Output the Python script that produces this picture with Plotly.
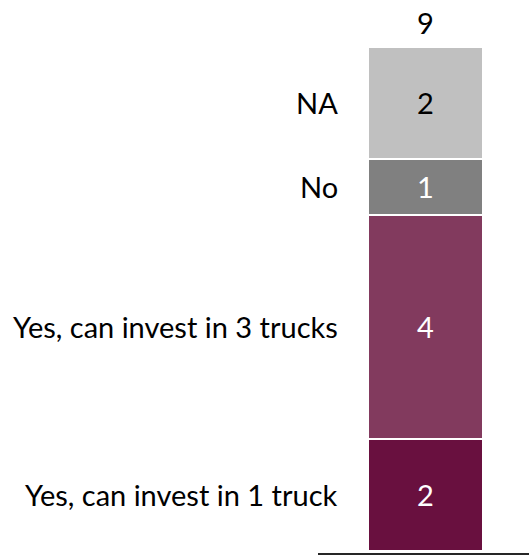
import plotly.graph_objects as go

# Survey responses, stacked bottom to top
categories = ["Yes, can invest in 1 truck", "Yes, can invest in 3 trucks", "No", "NA"]
counts = [2, 4, 1, 2]
colors = ["#69103F", "#823A5E", "#808080", "#C0C0C0"]
text_colors = ["white", "white", "white", "black"]
total = sum(counts)

FONT = "Lato"
SIZE = 29

fig = go.Figure()
for cat, val, col, tcol in zip(categories, counts, colors, text_colors):
    fig.add_trace(go.Bar(
        x=[0], y=[val], name=cat, width=1,
        marker=dict(color=col, line=dict(color="white", width=2)),
        text=[str(val)], textposition="inside", insidetextanchor="middle",
        textangle=0, constraintext="none",
        textfont=dict(family=FONT, size=SIZE, color=tcol),
        hoverinfo="skip",
    ))

# Category labels to the left of each segment
base = 0
for cat, val in zip(categories, counts):
    fig.add_annotation(
        x=-0.5, y=base + val / 2, xref="x", yref="y",
        text=cat, showarrow=False, xanchor="right", yanchor="middle",
        xshift=-28, font=dict(family=FONT, size=SIZE, color="black"),
    )
    base += val

# Total above the bar
fig.add_annotation(
    x=0, y=total, xref="x", yref="y", text=str(total), showarrow=False,
    xanchor="center", yanchor="bottom", yshift=5,
    font=dict(family=FONT, size=SIZE, color="black"),
)

fig.update_layout(
    barmode="stack",
    width=531, height=556,
    margin=dict(l=318, r=2, t=0, b=3),
    paper_bgcolor="white", plot_bgcolor="white",
    showlegend=False,
    xaxis=dict(range=[-0.935, 0.9], showgrid=False, zeroline=False,
               showticklabels=False, ticks="", showline=True,
               linecolor="#262626", linewidth=2, fixedrange=True),
    yaxis=dict(range=[-0.036, 9.839], showgrid=False, zeroline=False,
               showticklabels=False, ticks="", showline=False, fixedrange=True),
)

fig.write_html("out.html")
